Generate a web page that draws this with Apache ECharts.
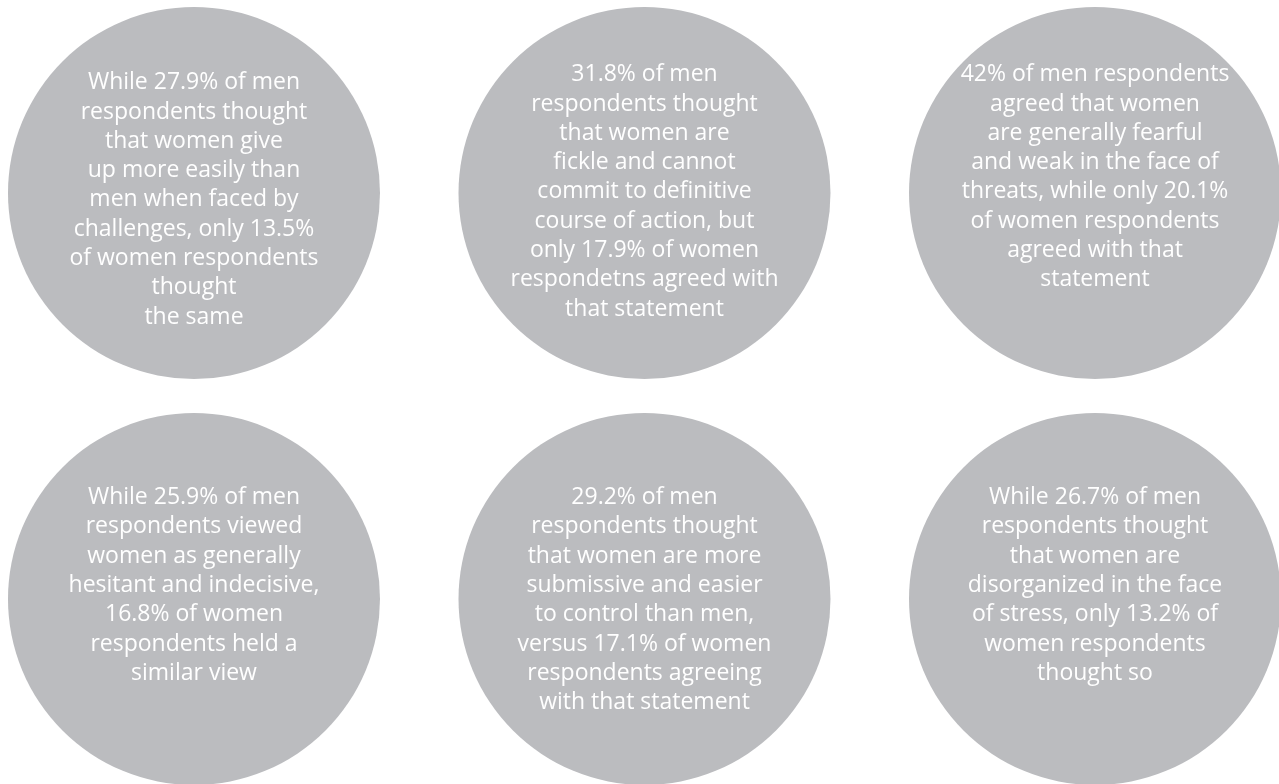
<!DOCTYPE html>
<html>
<head>
<meta charset="utf-8">
<script src="https://cdn.jsdelivr.net/npm/echarts@6/dist/echarts.min.js"></script>
<style>
html,body{margin:0;padding:0;background:#fff;}
#chart{width:1279px;height:784px;}
</style>
</head>
<body>
<div id="chart"></div>
<script>
// ---- data ----
var menPct = [27.9, 31.8, 42, 25.9, 29.2, 26.7];
var womenPct = [13.5, 17.9, 20.1, 16.8, 17.1, 13.2];
var statements = [
  ["While 27.9% of men", "respondents thought", "that women give", "up more easily than", "men when faced by", "challenges, only 13.5%", "of women respondents", "thought", "the same"],
  ["31.8% of men", "respondents thought", "that women are", "fickle and cannot", "commit to definitive", "course of action, but", "only 17.9% of women", "respondetns agreed with", "that statement"],
  ["42% of men respondents", "agreed that women", "are generally fearful", "and weak in the face of", "threats, while only 20.1%", "of women respondents", "agreed with that", "statement"],
  ["While 25.9% of men", "respondents viewed", "women as generally", "hesitant and indecisive,", "16.8% of women", "respondents held a", "similar view"],
  ["29.2% of men", "respondents thought", "that women are more", "submissive and easier", "to control than men,", "versus 17.1% of women", "respondents agreeing", "with that statement"],
  ["While 26.7% of men", "respondents thought", "that women are", "disorganized in the face", "of stress, only 13.2% of", "women respondents", "thought so"]
];

// ---- layout ----
var COLS = 3;
var R = 186;                 // circle radius (px)
var textTop = [-125, -133, -133, -116, -116, -116]; // first text line top relative to circle centre

var data = statements.map(function (lines, i) {
  return {
    value: [i % COLS, Math.floor(i / COLS), menPct[i], womenPct[i]],
    label: {
      formatter: lines.join('\n'),
      position: ['50%', R + textTop[i]]
    }
  };
});

var chart = echarts.init(document.getElementById('chart'), null, {renderer: 'canvas'});
chart.setOption({
  animation: false,
  backgroundColor: '#ffffff',
  grid: {left: 0, right: 0, top: 0, bottom: 0},
  xAxis: {type: 'value', min: -0.4306, max: 2.4084, show: false},
  yAxis: {type: 'value', min: -0.4754, max: 1.4557, inverse: true, show: false},
  series: [{
    type: 'scatter',
    clip: false,
    symbol: 'circle',
    symbolSize: 2 * R,
    itemStyle: {color: '#bbbcbf', opacity: 1},
    label: {
      show: true,
      align: 'center',
      verticalAlign: 'top',
      color: '#ffffff',
      fontFamily: 'Open Sans',
      fontWeight: 'normal',
      fontSize: 23,
      lineHeight: 29.3
    },
    emphasis: {disabled: true},
    data: data
  }]
});
</script>
</body>
</html>
